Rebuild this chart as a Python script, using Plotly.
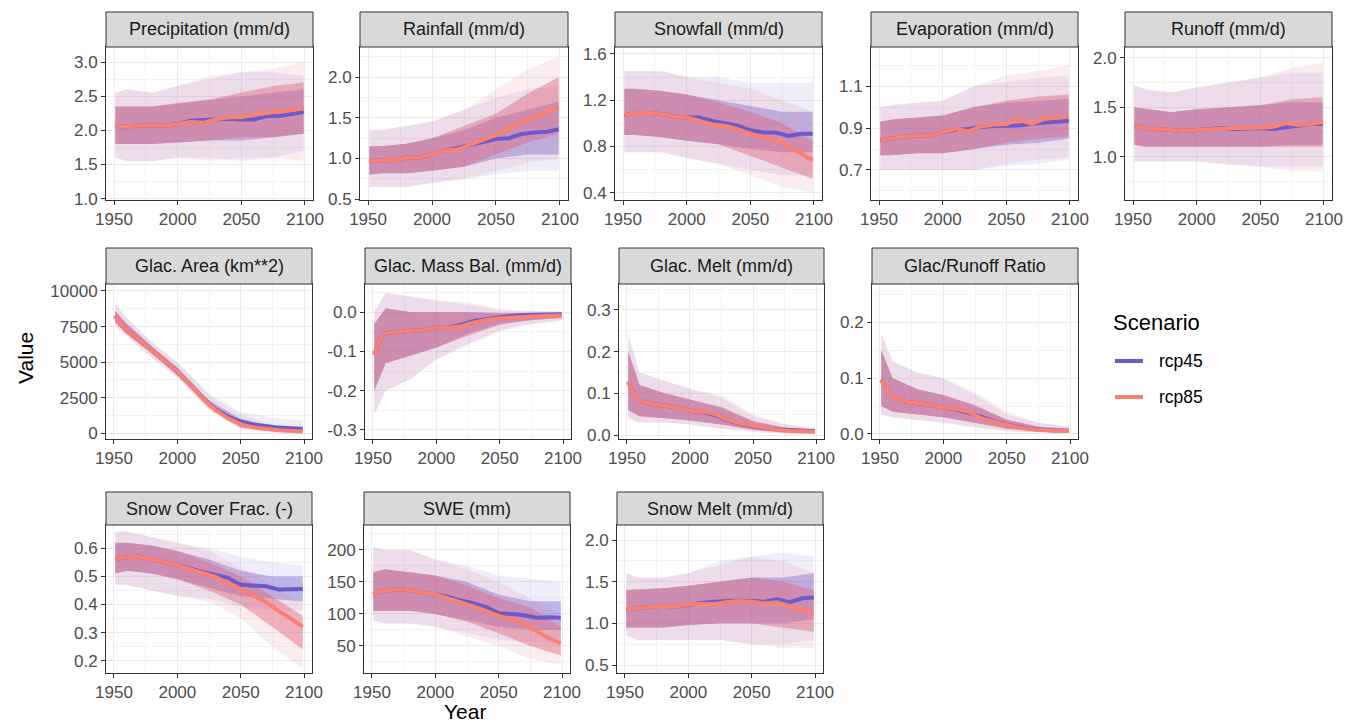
import plotly.graph_objects as go

W, H = 1345, 725
FONT = "Liberation Sans, Arial, sans-serif"

# ---------------- data ----------------
SCENARIOS = ["rcp45", "rcp85"]
MEAN_YEARS_HIST = [1951, 1955, 1960, 1970, 1980, 1990, 2000]
MEAN_YEARS_FUT = [2010, 2020, 2030, 2040, 2050, 2060, 2070, 2080, 2090, 2099]
BAND_YEARS_HIST = [1951, 1960, 1980, 2000]
BAND_YEARS_FUT = [2025, 2050, 2075, 2099]
X_TICKS = [1950, 2000, 2050, 2100]
X_TICK_LABELS = ["1950", "2000", "2050", "2100"]

TITLES = ["Precipitation (mm/d)", "Rainfall (mm/d)", "Snowfall (mm/d)", "Evaporation (mm/d)",
          "Runoff (mm/d)", "Glac. Area (km**2)", "Glac. Mass Bal. (mm/d)", "Glac. Melt (mm/d)",
          "Glac/Runoff Ratio", "Snow Cover Frac. (-)", "SWE (mm)", "Snow Melt (mm/d)"]

# ensemble mean lines
precip_hist = [2.05, 2.06, 2.06, 2.07, 2.07, 2.07, 2.09]
precip_rcp45 = [2.14, 2.15, 2.16, 2.17, 2.16, 2.16, 2.21, 2.21, 2.24, 2.27]
precip_rcp85 = [2.12, 2.11, 2.16, 2.19, 2.19, 2.23, 2.25, 2.27, 2.29, 2.32]
rain_hist = [0.97, 0.97, 0.98, 0.98, 1.01, 1.01, 1.05]
rain_rcp45 = [1.10, 1.13, 1.17, 1.21, 1.24, 1.25, 1.30, 1.32, 1.33, 1.36]
rain_rcp85 = [1.10, 1.11, 1.17, 1.24, 1.29, 1.37, 1.45, 1.51, 1.57, 1.63]
snowfall_hist = [1.07, 1.08, 1.09, 1.09, 1.08, 1.06, 1.05]
snowfall_rcp45 = [1.05, 1.02, 1.00, 0.98, 0.94, 0.92, 0.92, 0.89, 0.91, 0.91]
snowfall_rcp85 = [1.02, 0.99, 0.98, 0.95, 0.91, 0.88, 0.86, 0.80, 0.74, 0.68]
evap_hist = [0.84, 0.845, 0.85, 0.86, 0.864, 0.864, 0.88]
evap_rcp45 = [0.89, 0.895, 0.905, 0.91, 0.912, 0.912, 0.92, 0.925, 0.928, 0.935]
evap_rcp85 = [0.895, 0.883, 0.908, 0.916, 0.919, 0.94, 0.92, 0.944, 0.952, 0.955]
runoff_hist = [1.31, 1.30, 1.29, 1.28, 1.27, 1.26, 1.27]
runoff_rcp45 = [1.28, 1.29, 1.28, 1.29, 1.29, 1.28, 1.30, 1.32, 1.33, 1.33]
runoff_rcp85 = [1.28, 1.28, 1.29, 1.29, 1.30, 1.30, 1.34, 1.32, 1.33, 1.35]
area_hist = [8240, 7700, 7260, 6560, 5810, 5080, 4330]
area_rcp45 = [3480, 2490, 1700, 1180, 830, 620, 480, 400, 350, 320]
area_rcp85 = [3470, 2460, 1640, 1050, 630, 420, 300, 210, 160, 120]
massbal_hist = [-0.108, -0.070, -0.053, -0.049, -0.047, -0.045, -0.038]
massbal_rcp45 = [-0.040, -0.030, -0.022, -0.017, -0.012, -0.009, -0.007, -0.006, -0.005, -0.005]
massbal_rcp85 = [-0.041, -0.035, -0.026, -0.019, -0.015, -0.013, -0.011, -0.010, -0.009, -0.008]
glacmelt_hist = [0.128, 0.100, 0.082, 0.074, 0.070, 0.066, 0.058]
glacmelt_rcp45 = [0.055, 0.048, 0.035, 0.027, 0.021, 0.016, 0.013, 0.011, 0.010, 0.009]
glacmelt_rcp85 = [0.056, 0.050, 0.036, 0.028, 0.022, 0.016, 0.012, 0.0096, 0.0088, 0.008]
ratio_hist = [0.097, 0.080, 0.067, 0.058, 0.055, 0.052, 0.047]
ratio_rcp45 = [0.044, 0.038, 0.030, 0.023, 0.017, 0.012, 0.009, 0.007, 0.006, 0.006]
ratio_rcp85 = [0.045, 0.040, 0.028, 0.022, 0.016, 0.011, 0.0084, 0.0066, 0.0054, 0.0054]
snowcover_hist = [0.562, 0.566, 0.568, 0.571, 0.562, 0.553, 0.541]
snowcover_rcp45 = [0.528, 0.515, 0.506, 0.495, 0.470, 0.468, 0.465, 0.453, 0.455, 0.455]
snowcover_rcp85 = [0.526, 0.512, 0.498, 0.476, 0.455, 0.432, 0.408, 0.376, 0.349, 0.320]
swe_hist = [131, 134, 136, 139, 137, 133, 131]
swe_rcp45 = [127, 121, 117, 111, 101, 100, 98, 94, 95, 94]
swe_rcp85 = [124, 118, 112, 105, 97, 92, 85, 73, 62, 54]
snowmelt_hist = [1.168, 1.175, 1.18, 1.20, 1.21, 1.20, 1.228]
snowmelt_rcp45 = [1.245, 1.26, 1.268, 1.272, 1.268, 1.26, 1.29, 1.255, 1.30, 1.31]
snowmelt_rcp85 = [1.232, 1.228, 1.252, 1.268, 1.26, 1.24, 1.252, 1.20, 1.16, 1.132]

# ensemble spread: rows = outer low, inner low, inner high, outer high
precip_band_hist = [[1.60, 1.55, 1.55, 1.60], [1.80, 1.80, 1.80, 1.82], [2.35, 2.35, 2.35, 2.40], [2.55, 2.60, 2.55, 2.65]]
precip_band_rcp45 = [[1.60, 1.55, 1.60, 1.70], [1.85, 1.85, 1.90, 1.95], [2.45, 2.50, 2.55, 2.60], [2.75, 2.85, 2.85, 2.80]]
precip_band_rcp85 = [[1.55, 1.60, 1.60, 1.55], [1.85, 1.90, 1.90, 1.95], [2.45, 2.55, 2.65, 2.70], [2.80, 2.85, 2.90, 3.00]]
rain_band_hist = [[0.65, 0.65, 0.65, 0.70], [0.80, 0.82, 0.82, 0.85], [1.15, 1.15, 1.18, 1.25], [1.35, 1.35, 1.40, 1.45]]
rain_band_rcp45 = [[0.75, 0.80, 0.85, 0.85], [0.90, 1.00, 1.05, 1.05], [1.35, 1.50, 1.60, 1.70], [1.60, 1.75, 1.85, 1.90]]
rain_band_rcp85 = [[0.75, 0.85, 0.95, 1.00], [0.90, 1.05, 1.20, 1.30], [1.40, 1.55, 1.80, 2.00], [1.60, 1.85, 2.10, 2.25]]
snowfall_band_hist = [[0.75, 0.75, 0.75, 0.70], [0.90, 0.90, 0.88, 0.85], [1.30, 1.30, 1.28, 1.25], [1.45, 1.45, 1.45, 1.40]]
snowfall_band_rcp45 = [[0.65, 0.60, 0.55, 0.55], [0.82, 0.78, 0.75, 0.75], [1.20, 1.15, 1.10, 1.10], [1.40, 1.35, 1.35, 1.35]]
snowfall_band_rcp85 = [[0.65, 0.55, 0.45, 0.40], [0.82, 0.72, 0.62, 0.52], [1.18, 1.10, 1.00, 0.85], [1.35, 1.30, 1.20, 1.10]]
evap_band_hist = [[0.70, 0.70, 0.70, 0.70], [0.77, 0.77, 0.78, 0.78], [0.93, 0.94, 0.95, 0.96], [1.00, 1.01, 1.02, 1.03]]
evap_band_rcp45 = [[0.70, 0.72, 0.73, 0.75], [0.80, 0.82, 0.83, 0.85], [1.00, 1.02, 1.03, 1.04], [1.10, 1.12, 1.14, 1.15]]
evap_band_rcp85 = [[0.70, 0.73, 0.75, 0.76], [0.80, 0.83, 0.85, 0.86], [1.00, 1.03, 1.05, 1.06], [1.10, 1.15, 1.17, 1.20]]
runoff_band_hist = [[0.95, 0.95, 0.95, 0.95], [1.12, 1.10, 1.10, 1.10], [1.50, 1.48, 1.45, 1.48], [1.72, 1.68, 1.65, 1.70]]
runoff_band_rcp45 = [[0.92, 0.90, 0.90, 0.90], [1.10, 1.10, 1.12, 1.12], [1.50, 1.52, 1.55, 1.55], [1.75, 1.80, 1.85, 1.85]]
runoff_band_rcp85 = [[0.92, 0.90, 0.85, 0.85], [1.10, 1.10, 1.10, 1.10], [1.50, 1.52, 1.58, 1.60], [1.75, 1.80, 1.90, 1.95]]
area_band_hist = [[7500, 6800, 5300, 3900], [7800, 7000, 5600, 4100], [8600, 7700, 6100, 4600], [9100, 8100, 6400, 5000]]
area_band_rcp45 = [[1700, 350, 150, 100], [1850, 500, 250, 180], [2300, 1000, 500, 400], [2800, 1500, 1100, 900]]
area_band_rcp85 = [[1600, 250, 50, 30], [1800, 400, 120, 60], [2200, 800, 300, 200], [2700, 1300, 600, 350]]
massbal_band_hist = [[-0.26, -0.20, -0.17, -0.12], [-0.20, -0.13, -0.11, -0.09], [-0.03, 0.01, 0.00, 0.00], [0.00, 0.05, 0.04, 0.03]]
massbal_band_rcp45 = [[-0.080, -0.045, -0.030, -0.020], [-0.055, -0.030, -0.020, -0.014], [0.000, -0.003, -0.003, -0.002], [0.020, 0.005, 0.003, 0.002]]
massbal_band_rcp85 = [[-0.085, -0.050, -0.030, -0.022], [-0.060, -0.032, -0.020, -0.015], [0.000, -0.002, -0.003, -0.002], [0.025, 0.008, 0.003, 0.002]]
glacmelt_band_hist = [[0.040, 0.030, 0.030, 0.025], [0.060, 0.045, 0.040, 0.035], [0.200, 0.120, 0.100, 0.085], [0.240, 0.150, 0.130, 0.110]]
glacmelt_band_rcp45 = [[0.015, 0.008, 0.004, 0.002], [0.025, 0.013, 0.007, 0.004], [0.065, 0.032, 0.018, 0.013], [0.090, 0.045, 0.025, 0.018]]
glacmelt_band_rcp85 = [[0.015, 0.007, 0.003, 0.002], [0.025, 0.012, 0.006, 0.004], [0.068, 0.034, 0.018, 0.012], [0.095, 0.050, 0.026, 0.016]]
ratio_band_hist = [[0.035, 0.030, 0.025, 0.020], [0.050, 0.040, 0.035, 0.030], [0.150, 0.100, 0.080, 0.070], [0.180, 0.130, 0.110, 0.100]]
ratio_band_rcp45 = [[0.012, 0.005, 0.003, 0.002], [0.020, 0.010, 0.005, 0.003], [0.050, 0.025, 0.013, 0.010], [0.070, 0.035, 0.020, 0.014]]
ratio_band_rcp85 = [[0.012, 0.005, 0.003, 0.002], [0.020, 0.009, 0.005, 0.003], [0.052, 0.026, 0.013, 0.009], [0.075, 0.040, 0.020, 0.013]]
snowcover_band_hist = [[0.47, 0.47, 0.45, 0.43], [0.51, 0.52, 0.51, 0.49], [0.62, 0.62, 0.61, 0.59], [0.66, 0.66, 0.64, 0.62]]
snowcover_band_rcp45 = [[0.42, 0.39, 0.38, 0.38], [0.46, 0.43, 0.42, 0.41], [0.56, 0.52, 0.50, 0.50], [0.60, 0.57, 0.55, 0.54]]
snowcover_band_rcp85 = [[0.41, 0.35, 0.25, 0.17], [0.45, 0.40, 0.32, 0.24], [0.55, 0.50, 0.43, 0.36], [0.59, 0.53, 0.47, 0.40]]
swe_band_hist = [[90, 85, 85, 80], [105, 105, 105, 100], [165, 170, 165, 160], [205, 200, 200, 185]]
swe_band_rcp45 = [[70, 60, 55, 55], [90, 80, 75, 75], [150, 130, 120, 120], [175, 160, 155, 150]]
swe_band_rcp85 = [[65, 50, 30, 20], [88, 70, 50, 35], [145, 125, 110, 80], [170, 150, 125, 100]]
snowmelt_band_hist = [[0.85, 0.80, 0.80, 0.80], [0.95, 0.95, 0.95, 0.98], [1.40, 1.40, 1.42, 1.45], [1.60, 1.55, 1.55, 1.60]]
snowmelt_band_rcp45 = [[0.80, 0.75, 0.75, 0.80], [1.00, 1.00, 1.00, 1.05], [1.50, 1.55, 1.55, 1.60], [1.75, 1.80, 1.85, 1.80]]
snowmelt_band_rcp85 = [[0.80, 0.75, 0.70, 0.70], [1.00, 1.00, 0.95, 0.90], [1.50, 1.55, 1.50, 1.40], [1.70, 1.80, 1.75, 1.60]]

# y tick labels per panel
precip_ticks = ["1.0", "1.5", "2.0", "2.5", "3.0"]
rain_ticks = ["0.5", "1.0", "1.5", "2.0"]
snowfall_ticks = ["0.4", "0.8", "1.2", "1.6"]
evap_ticks = ["0.7", "0.9", "1.1"]
runoff_ticks = ["1.0", "1.5", "2.0"]
area_ticks = ["0", "2500", "5000", "7500", "10000"]
massbal_ticks = ["-0.3", "-0.2", "-0.1", "0.0"]
glacmelt_ticks = ["0.0", "0.1", "0.2", "0.3"]
ratio_ticks = ["0.0", "0.1", "0.2"]
snowcover_ticks = ["0.2", "0.3", "0.4", "0.5", "0.6"]
swe_ticks = ["50", "100", "150", "200"]
snowmelt_ticks = ["0.5", "1.0", "1.5", "2.0"]

# ---------------- layout (pixel geometry) ----------------
COLORS = {"rcp45": "#6A5ACD", "rcp85": "#FA8072"}
BAND_OUTER = {"rcp45": "rgba(106,90,205,0.11)", "rcp85": "rgba(225,105,120,0.12)"}
BAND_INNER = {"rcp45": "rgba(106,90,205,0.38)", "rcp85": "rgba(220,100,120,0.44)"}

# (strip top, plot top, plot bottom) per row; (row, left, right) per panel
ROWS = [(12, 47, 200), (248, 284, 439), (492, 525, 673)]
PANEL_POS = [
    (0, 106, 313), (0, 360, 568), (0, 615, 822), (0, 871, 1078), (0, 1125, 1332),
    (1, 106, 312), (1, 365, 571), (1, 619, 824), (1, 872, 1078),
    (2, 106, 312), (2, 364, 570), (2, 617, 823),
]
Y_RANGES = [
    [0.98, 3.22], [0.49, 2.37], [0.337, 1.66], [0.557, 1.286], [0.56, 2.11],
    [-400, 10490], [-0.323, 0.072], [-0.0096, 0.362], [-0.009, 0.269],
    [0.156, 0.683], [7.8, 239], [0.404, 2.18],
]
X_RANGE = [1943.7, 2106.3]

PANELS = [
    (precip_hist, precip_rcp45, precip_rcp85, precip_band_hist, precip_band_rcp45, precip_band_rcp85, precip_ticks),
    (rain_hist, rain_rcp45, rain_rcp85, rain_band_hist, rain_band_rcp45, rain_band_rcp85, rain_ticks),
    (snowfall_hist, snowfall_rcp45, snowfall_rcp85, snowfall_band_hist, snowfall_band_rcp45, snowfall_band_rcp85, snowfall_ticks),
    (evap_hist, evap_rcp45, evap_rcp85, evap_band_hist, evap_band_rcp45, evap_band_rcp85, evap_ticks),
    (runoff_hist, runoff_rcp45, runoff_rcp85, runoff_band_hist, runoff_band_rcp45, runoff_band_rcp85, runoff_ticks),
    (area_hist, area_rcp45, area_rcp85, area_band_hist, area_band_rcp45, area_band_rcp85, area_ticks),
    (massbal_hist, massbal_rcp45, massbal_rcp85, massbal_band_hist, massbal_band_rcp45, massbal_band_rcp85, massbal_ticks),
    (glacmelt_hist, glacmelt_rcp45, glacmelt_rcp85, glacmelt_band_hist, glacmelt_band_rcp45, glacmelt_band_rcp85, glacmelt_ticks),
    (ratio_hist, ratio_rcp45, ratio_rcp85, ratio_band_hist, ratio_band_rcp45, ratio_band_rcp85, ratio_ticks),
    (snowcover_hist, snowcover_rcp45, snowcover_rcp85, snowcover_band_hist, snowcover_band_rcp45, snowcover_band_rcp85, snowcover_ticks),
    (swe_hist, swe_rcp45, swe_rcp85, swe_band_hist, swe_band_rcp45, swe_band_rcp85, swe_ticks),
    (snowmelt_hist, snowmelt_rcp45, snowmelt_rcp85, snowmelt_band_hist, snowmelt_band_rcp45, snowmelt_band_rcp85, snowmelt_ticks),
]

GRID = "#ebebeb"
MINOR_GRID = "#f3f3f3"
DARK = "#333333"

fig = go.Figure()
shapes, annotations = [], []
layout_axes = {}

band_years = BAND_YEARS_HIST + BAND_YEARS_FUT
mean_years = MEAN_YEARS_HIST + MEAN_YEARS_FUT

for k, (title, pos, yr, pdata) in enumerate(zip(TITLES, PANEL_POS, Y_RANGES, PANELS), start=1):
    row, x0, x1 = pos
    s_top, p_top, p_bot = ROWS[row]
    mhist, m45, m85, bhist, b45, b85, yticks = pdata
    xa = "x" if k == 1 else f"x{k}"
    ya = "y" if k == 1 else f"y{k}"
    fut_means = {"rcp45": m45, "rcp85": m85}
    fut_bands = {"rcp45": b45, "rcp85": b85}

    for scen in SCENARIOS:
        edges = [h + f for h, f in zip(bhist, fut_bands[scen])]
        for lo, hi, col in ((edges[0], edges[3], BAND_OUTER[scen]), (edges[1], edges[2], BAND_INNER[scen])):
            fig.add_trace(go.Scatter(
                x=band_years + band_years[::-1], y=lo + hi[::-1],
                mode="lines", fill="toself", fillcolor=col, line=dict(width=0),
                hoverinfo="skip", showlegend=False, xaxis=xa, yaxis=ya))
    for scen in SCENARIOS:
        fig.add_trace(go.Scatter(
            x=mean_years, y=mhist + fut_means[scen], mode="lines", name=scen,
            line=dict(color=COLORS[scen], width=4), legendgroup=scen,
            showlegend=False, xaxis=xa, yaxis=ya))

    tickvals = [float(t) for t in yticks]
    step = tickvals[1] - tickvals[0]
    minor_vals = [tickvals[0] - step / 2] + [t + step / 2 for t in tickvals]

    common = dict(showline=True, mirror=True, linecolor=DARK, linewidth=1,
                  ticks="outside", ticklen=4, tickcolor=DARK, tickwidth=1,
                  showgrid=True, gridcolor=GRID, gridwidth=1.1, zeroline=False,
                  automargin=False,
                  tickfont=dict(family=FONT, size=17, color="#4d4d4d"), fixedrange=True)
    layout_axes[("xaxis" if k == 1 else f"xaxis{k}")] = dict(
        domain=[x0 / W, x1 / W], range=X_RANGE, anchor=ya,
        tickmode="array", tickvals=X_TICKS, ticktext=X_TICK_LABELS,
        minor=dict(tickmode="array", tickvals=[1975, 2025, 2075], showgrid=True,
                   gridcolor=MINOR_GRID, gridwidth=0.7, ticks=""),
        **common)
    layout_axes[("yaxis" if k == 1 else f"yaxis{k}")] = dict(
        domain=[1 - p_bot / H, 1 - p_top / H], range=yr, anchor=xa,
        tickmode="array", tickvals=tickvals, ticktext=yticks,
        minor=dict(tickmode="array", tickvals=minor_vals, showgrid=True,
                   gridcolor=MINOR_GRID, gridwidth=0.7, ticks=""),
        **common)

    shapes.append(dict(type="rect", xref="paper", yref="paper",
                       x0=x0 / W, x1=x1 / W, y0=1 - p_top / H, y1=1 - s_top / H,
                       fillcolor="#d9d9d9", line=dict(color=DARK, width=1), layer="above"))
    annotations.append(dict(text=title, xref="paper", yref="paper",
                            x=(x0 + x1) / 2 / W, y=1 - (s_top + p_top) / 2 / H,
                            xanchor="center", yanchor="middle", showarrow=False,
                            font=dict(family=FONT, size=18, color="#1a1a1a")))

annotations.append(dict(text="Value", xref="paper", yref="paper", x=25 / W, y=1 - 358 / H,
                        textangle=-90, showarrow=False, xanchor="center", yanchor="middle",
                        font=dict(family=FONT, size=21, color="black")))
annotations.append(dict(text="Year", xref="paper", yref="paper", x=465 / W, y=1 - 711 / H,
                        showarrow=False, xanchor="center", yanchor="middle",
                        font=dict(family=FONT, size=21, color="black")))

# legend (drawn as key lines + labels)
LEGEND_ROWS = {"rcp45": 361, "rcp85": 397}
annotations.append(dict(text="Scenario", xref="paper", yref="paper", x=1111 / W, y=1 - 322 / H,
                        showarrow=False, xanchor="left", yanchor="middle",
                        font=dict(family=FONT, size=22, color="black")))
for scen in SCENARIOS:
    yy = 1 - LEGEND_ROWS[scen] / H
    shapes.append(dict(type="line", xref="paper", yref="paper", x0=1115 / W, x1=1143 / W,
                       y0=yy, y1=yy, line=dict(color=COLORS[scen], width=4)))
    annotations.append(dict(text=scen, xref="paper", yref="paper", x=1157 / W, y=yy,
                            showarrow=False, xanchor="left", yanchor="middle",
                            font=dict(family=FONT, size=17.5, color="black")))

fig.update_layout(
    width=W, height=H, margin=dict(l=0, r=0, t=0, b=0, autoexpand=False),
    paper_bgcolor="white", plot_bgcolor="white", showlegend=False,
    shapes=shapes, annotations=annotations,
    **layout_axes,
)

fig.write_html("out.html", config={"displayModeBar": False},
               post_script="document.body.style.margin='0';document.body.style.overflow='hidden';")
